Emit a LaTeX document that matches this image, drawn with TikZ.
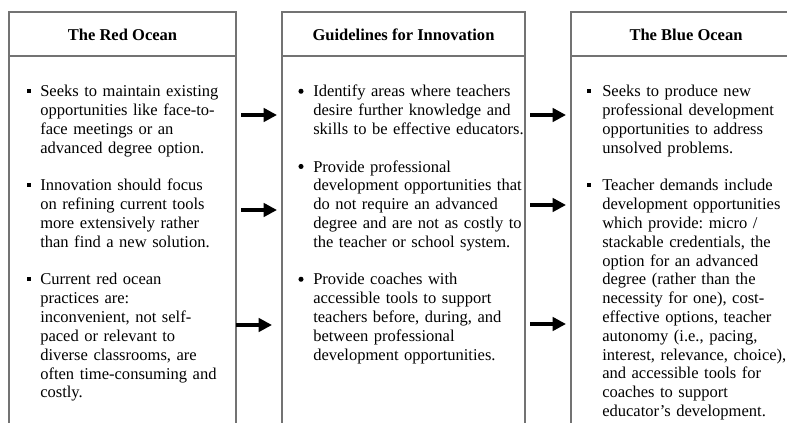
\documentclass[tikz,border=0pt]{standalone}
\usepackage{fontspec}
\setmainfont{Liberation Serif}
\usetikzlibrary{arrows.meta}

\begin{document}
\begin{tikzpicture}[
    x=0.75pt, y=-0.75pt,
    % Common Styles
    panel/.style={
        draw=black!55,
        line width=0.8pt
    },
    head_text/.style={
        font=\bfseries\fontsize{12.4}{14.1}\selectfont,
        inner sep=0pt
    },
    item_text/.style={
        font=\frenchspacing\fontsize{12.4}{14.1}\selectfont,
        align=left,
        text width=#1,
        anchor=base west,
        inner sep=0pt
    },
    sq_bullet/.style={
        rectangle,
        fill=black,
        inner sep=0pt,
        minimum size=3.2pt
    },
    dot_bullet/.style={
        circle,
        fill=black,
        inner sep=0pt,
        minimum size=3.8pt
    },
    flow_arrow/.style={
        line width=3.2pt,
        -{Triangle[length=10pt, width=10pt]}
    }
]
    \useasboundingbox (0,0) rectangle (787,423);
    \clip (0,0) rectangle (787,423);

    % ================= PANELS =================
    % Outer frames (they run past the bottom edge)
    \draw[panel] (9,12) rectangle (236,440);
    \draw[panel] (282,12) rectangle (525,440);
    \draw[panel] (571,12) rectangle (801,440);

    % Header rules
    \draw[panel] (9,56) -- (236,56);
    \draw[panel] (282,56) -- (525,56);
    \draw[panel] (571,56) -- (801,56);

    % Titles
    \node[head_text] (red) at (122.5,35) {The Red Ocean};
    \node[head_text] (guide) at (403.5,35) {Guidelines for Innovation};
    \node[head_text] (blue) at (686,35) {The Blue Ocean};

    % ================= THE RED OCEAN =================
    \node[item_text=145pt] (r1) at (40,97) {Seeks to maintain existing\\opportunities like face-to-\\face meetings or an\\advanced degree option.};
    \node[item_text=145pt] (r2) at (40,191) {Innovation should focus\\on refining current tools\\more extensively rather\\than find a new solution.};
    \node[item_text=145pt] (r3) at (40,285) {Current red ocean\\practices are:\\inconvenient, not self-\\paced or relevant to\\diverse classrooms, are\\often time-consuming and\\costly.};

    % ================= GUIDELINES =================
    \node[item_text=165pt] (g1) at (313,97) {Identify areas where teachers\\desire further knowledge and\\skills to be effective educators.};
    \node[item_text=165pt] (g2) at (313,172.2) {Provide professional\\development opportunities that\\do not require an advanced\\degree and are not as costly to\\the teacher or school system.};
    \node[item_text=165pt] (g3) at (313,285) {Provide coaches with\\accessible tools to support\\teachers before, during, and\\between professional\\development opportunities.};

    % ================= THE BLUE OCEAN =================
    \node[item_text=145pt] (b1) at (602,97) {Seeks to produce new\\professional development\\opportunities to address\\unsolved problems.};
    \node[item_text=145pt] (b2) at (602,191) {Teacher demands include\\development opportunities\\which provide: micro /\\stackable credentials, the\\option for an advanced\\degree (rather than the\\necessity for one), cost-\\effective options, teacher\\autonomy (i.e., pacing,\\interest, relevance, choice),\\and accessible tools for\\coaches to support\\educator’s development.};

    % Bullets
    \foreach \p in {r1, r2, r3} {
        \node[sq_bullet] at ([xshift=-8.5pt, yshift=4.6pt]\p.base west) {};
    }
    \foreach \p in {g1, g2, g3} {
        \node[dot_bullet] at ([xshift=-9pt, yshift=4.3pt]\p.base west) {};
    }
    \foreach \p in {b1, b2} {
        \node[sq_bullet] at ([xshift=-9.5pt, yshift=4.6pt]\p.base west) {};
    }

    % ================= ARROWS =================
    % Red ocean -> guidelines
    \coordinate (ls1) at (241,115);
    \coordinate (le1) at (277,115);
    \coordinate (ls2) at (241,210);
    \coordinate (le2) at (277,210);
    \coordinate (ls3) at (236,325);
    \coordinate (le3) at (272,325);

    % Guidelines -> blue ocean
    \coordinate (rs1) at (530,115);
    \coordinate (re1) at (566,115);
    \coordinate (rs2) at (530,205);
    \coordinate (re2) at (566,205);
    \coordinate (rs3) at (530,324);
    \coordinate (re3) at (566,324);

    \foreach \i in {1,2,3} {
        \draw[flow_arrow] (ls\i) -- (le\i);
        \draw[flow_arrow] (rs\i) -- (re\i);
    }

\end{tikzpicture}
\end{document}
